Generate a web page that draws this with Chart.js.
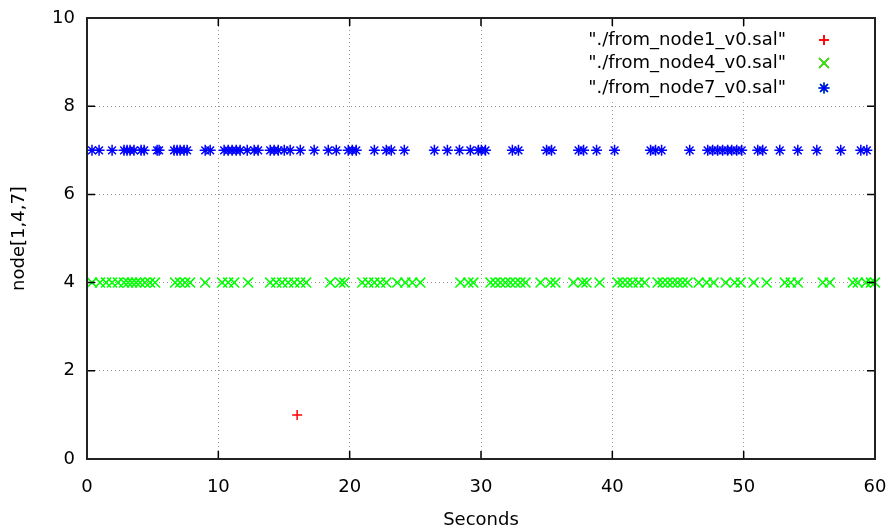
<!DOCTYPE html>
<html>
<head>
<meta charset="utf-8">
<script src="https://cdn.jsdelivr.net/npm/chart.js@4/dist/chart.umd.min.js"></script>
<style>
    html, body { margin: 0; padding: 0; background: #fff; }
    #wrap { width: 892px; height: 532px; }
</style>
</head>
<body>
<div id="wrap"><canvas id="chart"></canvas></div>
<script>
// series labels (as in the gnuplot key)
const seriesNames = ['"./from_node1_v0.sal"', '"./from_node4_v0.sal"', '"./from_node7_v0.sal"'];

// node1 -> value 1
const node1Times = [16.0];
const node1Value = 1;

// node4 -> value 4
const node4Times = [
    0.38, 0.99, 1.45, 1.91, 2.36, 2.82, 3.13, 3.43, 3.74, 4.04, 4.42, 4.80, 5.18,
    6.71, 7.09, 7.47, 7.85, 9.00, 10.29, 10.75, 11.21, 12.27, 13.95, 14.41, 14.86,
    15.32, 15.78, 16.24, 16.69, 18.52, 19.28, 19.59, 20.96, 21.42, 21.88, 22.33,
    22.79, 23.63, 24.24, 24.77, 25.38, 28.43, 29.04, 29.42, 30.72, 31.10, 31.48,
    31.86, 32.24, 32.62, 33.00, 33.39, 34.53, 35.29, 35.67, 37.04, 37.73, 38.03,
    39.03, 40.40, 40.78, 41.16, 41.54, 42.00, 42.46, 43.45, 43.83, 44.21, 44.59,
    44.97, 45.35, 45.73, 46.57, 47.18, 47.71, 48.63, 49.32, 49.77, 50.76, 51.75,
    53.13, 53.58, 54.12, 56.02, 56.56, 58.31, 58.69, 59.30, 59.68, 60.0
];
const node4Value = 4;

// node7 -> value 7
const node7Times = [
    0.38, 0.92, 1.91, 2.82, 3.05, 3.28, 3.58, 4.12, 4.35, 5.34, 5.49, 6.63, 6.86,
    7.09, 7.39, 7.62, 9.00, 9.38, 10.44, 10.75, 11.05, 11.36, 11.66, 12.20, 12.73,
    13.03, 13.95, 14.25, 14.56, 15.02, 15.47, 16.24, 17.30, 18.37, 18.98, 19.89,
    20.20, 20.50, 21.88, 22.79, 23.17, 24.16, 26.45, 27.44, 28.36, 29.19, 29.80,
    30.03, 30.34, 32.39, 32.85, 34.99, 35.37, 37.43, 37.81, 38.80, 40.17, 42.91,
    43.29, 43.75, 45.89, 47.26, 47.64, 48.02, 48.40, 48.78, 49.09, 49.47, 49.85,
    51.07, 51.45, 52.75, 54.12, 55.57, 57.39, 58.92, 59.38
];
const node7Value = 7;

const xTicks = [0, 10, 20, 30, 40, 50, 60];
const yTicks = [0, 2, 4, 6, 8, 10];

const FONT = 'DejaVu Sans';
const COLORS = { red: '#ff0000', green: '#00ff00', blue: '#0000ff' };

const toPoints = (times, value) => times.map(t => ({ x: t, y: value }));

// gnuplot style frame + inward ticks, and the key box in the top right
const gnuplotFrame = {
    id: 'gnuplotFrame',
    afterDatasetsDraw(chart) {
        const { ctx, chartArea: a, scales: { x, y } } = chart;
        ctx.save();

        // key, with opaque background
        const keyRight = 786;
        const keyMarkX = 824;
        const rowY = [40, 63, 88];
        ctx.fillStyle = '#fff';
        ctx.fillRect(560, 28, 300, 74);
        ctx.font = `18px "${FONT}"`;
        ctx.fillStyle = '#000';
        ctx.textAlign = 'right';
        ctx.textBaseline = 'middle';
        const ds = chart.data.datasets;
        for (let i = 0; i < ds.length; i++) {
            ctx.fillText(seriesNames[i], keyRight, rowY[i]);
            Chart.helpers.drawPoint(ctx, {
                pointStyle: ds[i].pointStyle,
                radius: ds[i].pointRadius,
                borderWidth: ds[i].pointBorderWidth,
                rotation: 0
            }, keyMarkX, rowY[i]);
            ctx.strokeStyle = ds[i].borderColor;
            ctx.lineWidth = ds[i].pointBorderWidth;
            ctx.stroke();
        }

        // ticks
        ctx.strokeStyle = '#000';
        ctx.lineWidth = 1.5;
        ctx.beginPath();
        const tl = 8;
        xTicks.forEach(v => {
            const px = x.getPixelForValue(v);
            ctx.moveTo(px, a.bottom); ctx.lineTo(px, a.bottom - tl);
            ctx.moveTo(px, a.top); ctx.lineTo(px, a.top + tl);
        });
        yTicks.forEach(v => {
            const py = y.getPixelForValue(v);
            ctx.moveTo(a.left, py); ctx.lineTo(a.left + tl, py);
            ctx.moveTo(a.right, py); ctx.lineTo(a.right - tl, py);
        });
        ctx.stroke();

        // frame
        ctx.strokeStyle = '#222';
        ctx.lineWidth = 2;
        ctx.strokeRect(a.left, a.top, a.right - a.left, a.bottom - a.top);
        ctx.restore();
    }
};

const chartEle = document.getElementById('chart');
new Chart(chartEle, {
    type: 'scatter',
    data: {
        datasets: [{
            label: seriesNames[0],
            data: toPoints(node1Times, node1Value),
            pointStyle: 'cross',
            pointRadius: 5,
            pointBorderWidth: 1.5,
            borderColor: COLORS.red,
            backgroundColor: COLORS.red
        }, {
            label: seriesNames[1],
            data: toPoints(node4Times, node4Value),
            pointStyle: 'crossRot',
            pointRadius: 7,
            pointBorderWidth: 1.5,
            borderColor: COLORS.green,
            backgroundColor: COLORS.green
        }, {
            label: seriesNames[2],
            data: toPoints(node7Times, node7Value),
            pointStyle: 'star',
            pointRadius: 5.5,
            pointBorderWidth: 1.5,
            borderColor: COLORS.blue,
            backgroundColor: COLORS.blue
        }]
    },
    options: {
        responsive: true,
        maintainAspectRatio: false,
        animation: false,
        clip: false,
        layout: { padding: { left: 0, right: 17, top: 18, bottom: 0 } },
        plugins: {
            legend: { display: false },
            tooltip: { enabled: false }
        },
        scales: {
            x: {
                type: 'linear',
                min: 0,
                max: 60,
                afterBuildTicks: (s) => { s.ticks = xTicks.map(v => ({ value: v })); },
                afterFit: (s) => {
                    s.height = 73;
                    s.paddingLeft = 0;
                    s.paddingRight = 0;
                },
                grid: { color: '#999', lineWidth: 1, drawTicks: false },
                border: { display: false, dash: [1, 3] },
                ticks: { color: '#000', padding: 18, font: { family: FONT, size: 18 } },
                title: {
                    display: true,
                    text: 'Seconds',
                    color: '#000',
                    padding: { top: 0, bottom: 1 },
                    font: { family: FONT, size: 18 }
                }
            },
            y: {
                type: 'linear',
                min: 0,
                max: 10,
                afterBuildTicks: (s) => { s.ticks = yTicks.map(v => ({ value: v })); },
                afterFit: (s) => {
                    s.width = 87;
                    s.paddingTop = 0;
                    s.paddingBottom = 0;
                },
                grid: { color: '#999', lineWidth: 1, drawTicks: false },
                border: { display: false, dash: [1, 3] },
                ticks: { color: '#000', padding: 12, font: { family: FONT, size: 18 } },
                title: {
                    display: true,
                    text: 'node[1,4,7]',
                    color: '#000',
                    padding: { top: 9, bottom: 0 },
                    font: { family: FONT, size: 18 }
                }
            }
        }
    },
    plugins: [gnuplotFrame]
});
</script>
</body>
</html>
